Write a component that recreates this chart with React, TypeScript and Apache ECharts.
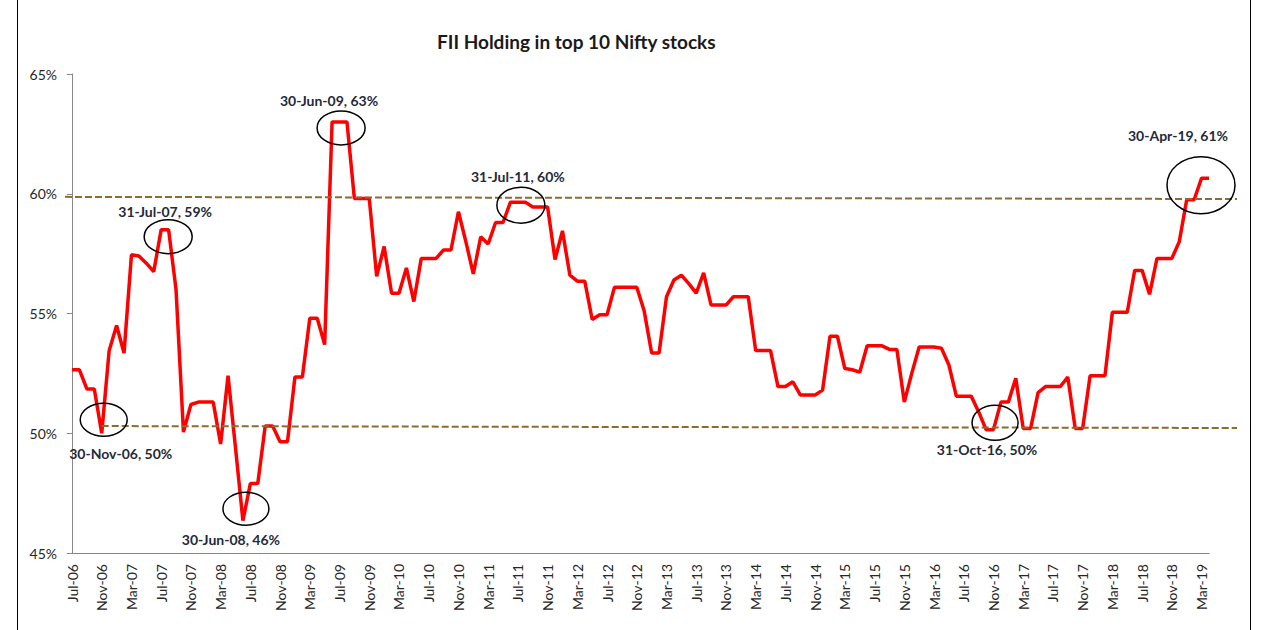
import React, { useEffect, useRef } from 'react';
import * as echarts from 'echarts';

// ---------- DATA ----------
const MONTH_NAMES = ['Jan', 'Feb', 'Mar', 'Apr', 'May', 'Jun', 'Jul', 'Aug', 'Sep', 'Oct', 'Nov', 'Dec'];
const START_YEAR = 2006;
const START_MONTH = 6; // Jul
const END_YEAR = 2019;
const END_MONTH = 3; // Apr

const CATEGORIES: string[] = [];
for (let y = START_YEAR; y <= END_YEAR; y++) {
  for (let m = 0; m < 12; m++) {
    if (y === START_YEAR && m < START_MONTH) continue;
    if (y === END_YEAR && m > END_MONTH) continue;
    CATEGORIES.push(MONTH_NAMES[m] + '-' + String(y % 100).padStart(2, '0'));
  }
}

// FII holding (%) Jul-06 .. Apr-19, monthly
const FII_HOLDING = [
  52.65, 52.65, 51.85, 51.85, 50.0, 53.45, // Jul-06..Dec-06
  54.5, 53.35, 57.45, 57.4, 57.1, 56.75, 58.5, 58.5, 56.0, 50.05, 51.2, 51.3, // 2007
  51.3, 51.3, 49.55, 52.4, 49.4, 46.35, 47.9, 47.9, 50.3, 50.3, 49.65, 49.65, // 2008
  52.35, 52.35, 54.8, 54.8, 53.7, 63.0, 63.0, 63.0, 59.8, 59.8, 59.8, 56.55, // 2009
  57.8, 55.85, 55.85, 56.9, 55.5, 57.3, 57.3, 57.3, 57.65, 57.65, 59.25, 58.0, // 2010
  56.65, 58.2, 57.9, 58.8, 58.8, 59.65, 59.65, 59.65, 59.45, 59.45, 59.45, 57.25, // 2011
  58.45, 56.6, 56.35, 56.35, 54.75, 54.95, 54.95, 56.1, 56.1, 56.1, 56.1, 55.1, // 2012
  53.35, 53.35, 55.7, 56.4, 56.6, 56.25, 55.85, 56.7, 55.35, 55.35, 55.35, 55.7, // 2013
  55.7, 55.7, 53.45, 53.45, 53.45, 51.95, 51.95, 52.15, 51.6, 51.6, 51.6, 51.8, // 2014
  54.05, 54.05, 52.7, 52.65, 52.55, 53.65, 53.65, 53.65, 53.5, 53.5, 51.3, 52.5, // 2015
  53.6, 53.6, 53.6, 53.55, 52.85, 51.55, 51.55, 51.55, 50.9, 50.15, 50.15, 51.3, // 2016
  51.3, 52.3, 50.2, 50.2, 51.7, 51.95, 51.95, 51.95, 52.35, 50.2, 50.2, 52.4, // 2017
  52.4, 52.4, 55.05, 55.05, 55.05, 56.8, 56.8, 55.8, 57.3, 57.3, 57.3, 58.0, // 2018
  59.75, 59.75, 60.65, 60.65, // Jan-19..Apr-19
];

const Y_MIN = 45;
const Y_MAX = 65;
const Y_STEP = 5;

// Hand-drawn trend (support / resistance) lines: value at left end, value at right end
const UPPER_TREND = [59.87, 59.78];
const LOWER_TREND = [50.3, 50.22];
const LOWER_TREND_START_INDEX = 4; // starts at Nov-06

// Callouts: index of month and text
const CALLOUT_INDEX = [4, 12, 23, 35, 60, 123, 153];
const CALLOUT_TEXT = [
  '30-Nov-06, 50%',
  '31-Jul-07, 59%',
  '30-Jun-08, 46%',
  '30-Jun-09, 63%',
  '31-Jul-11, 60%',
  '31-Oct-16, 50%',
  '30-Apr-19, 61%',
];

// ---------- LAYOUT (pixel offsets of circles/labels relative to the data point) ----------
const CALLOUT_LAYOUT = [
  { ex: 2, ey: -13.5, rx: 23.5, ry: 16.5, tx: 19, ty: 20 },
  { ex: 7, ey: 7, rx: 24, ry: 17, tx: 4, ty: -18 },
  { ex: 3, ey: -12, rx: 23, ry: 16.5, tx: -12, ty: 19 },
  { ex: 9, ey: 6, rx: 24, ry: 17, tx: -3, ty: -21 },
  { ex: 3, ey: 3, rx: 24, ry: 18, tx: 0, ty: -26 },
  { ex: 9, ey: -7, rx: 23, ry: 17.5, tx: 1, ty: 20 },
  { ex: -8, ey: 7, rx: 34, ry: 28.5, tx: -31, ty: -43 },
];

const FONT = 'Lato, "Open Sans", "DejaVu Sans", sans-serif';
const AXIS_COLOR = '#868686';
const TEXT_COLOR = '#262626';
const TREND_COLOR = '#8C6C2E';

export default function App() {
  const ref = useRef<HTMLDivElement>(null);

  useEffect(() => {
    if (!ref.current) return;
    const chart = echarts.init(ref.current, null, { renderer: 'svg' });

    chart.setOption({
      animation: false,
      backgroundColor: '#ffffff',
      title: {
        text: 'FII Holding in top 10 Nifty stocks',
        left: 432,
        top: 27,
        textStyle: { fontFamily: FONT, fontSize: 19, fontWeight: 'bold', color: '#1a1a1a' },
      },
      grid: { left: 72, right: 53, top: 74, bottom: 77, containLabel: false },
      xAxis: {
        type: 'category',
        data: CATEGORIES,
        boundaryGap: false,
        axisLine: { show: true, lineStyle: { color: AXIS_COLOR, width: 1 } },
        axisTick: { show: false },
        splitLine: { show: false },
        axisLabel: {
          interval: 3,
          rotate: 90,
          margin: 11,
          fontFamily: FONT,
          fontSize: 14,
          color: TEXT_COLOR,
        },
      },
      yAxis: {
        type: 'value',
        min: Y_MIN,
        max: Y_MAX,
        interval: Y_STEP,
        splitLine: { show: false },
        axisLine: { show: true, lineStyle: { color: AXIS_COLOR, width: 1 } },
        axisTick: { show: true, inside: false, length: 5, lineStyle: { color: AXIS_COLOR } },
        axisLabel: {
          formatter: '{value}%',
          margin: 15,
          fontFamily: FONT,
          fontSize: 14,
          color: TEXT_COLOR,
        },
      },
      series: [
        {
          type: 'line',
          data: FII_HOLDING,
          symbol: 'none',
          lineStyle: { color: '#FF0000', width: 3.5 },
          z: 3,
        },
      ],
    });

    const toPx = (i: number, v: number) =>
      chart.convertToPixel({ xAxisIndex: 0, yAxisIndex: 0 }, [i, v]) as number[];

    const last = FII_HOLDING.length - 1;
    const gridLeft = toPx(0, Y_MIN)[0];
    const gridRight = toPx(last, Y_MIN)[0];

    const graphics: any[] = [];

    // frame (left and right edges)
    graphics.push({
      type: 'line',
      shape: { x1: 17.5, y1: 0, x2: 17.5, y2: 630 },
      style: { stroke: '#000', lineWidth: 1 },
      silent: true,
    });
    graphics.push({
      type: 'line',
      shape: { x1: 1250.5, y1: 0, x2: 1250.5, y2: 630 },
      style: { stroke: '#000', lineWidth: 1 },
      silent: true,
    });

    // trend lines
    const upL = toPx(0, UPPER_TREND[0]);
    const upR = toPx(last, UPPER_TREND[1]);
    graphics.push({
      type: 'line',
      shape: { x1: gridLeft - 7, y1: upL[1], x2: gridRight + 28, y2: upR[1] },
      style: { stroke: TREND_COLOR, lineWidth: 2, lineDash: [7, 3] },
      silent: true,
      z: 5,
    });
    const loL = toPx(LOWER_TREND_START_INDEX, LOWER_TREND[0]);
    const loR = toPx(last, LOWER_TREND[1]);
    graphics.push({
      type: 'line',
      shape: { x1: loL[0], y1: loL[1], x2: gridRight + 28, y2: loR[1] },
      style: { stroke: TREND_COLOR, lineWidth: 2, lineDash: [7, 3] },
      silent: true,
      z: 5,
    });

    // callouts
    CALLOUT_INDEX.forEach((idx, k) => {
      const p = toPx(idx, FII_HOLDING[idx]);
      const L = CALLOUT_LAYOUT[k];
      graphics.push({
        type: 'ellipse',
        shape: { cx: p[0] + L.ex, cy: p[1] + L.ey, rx: L.rx, ry: L.ry },
        style: { fill: 'none', stroke: '#000', lineWidth: 1.5 },
        silent: true,
        z: 10,
      });
      graphics.push({
        type: 'text',
        x: p[0] + L.tx,
        y: p[1] + L.ty,
        style: {
          text: CALLOUT_TEXT[k],
          align: 'center',
          verticalAlign: 'middle',
          fontFamily: FONT,
          fontSize: 14,
          fontWeight: 'bold',
          fill: '#1f2a3a',
        },
        silent: true,
        z: 10,
      });
    });

    chart.setOption({ graphic: graphics });

    return () => chart.dispose();
  }, []);

  return (
    <div
      ref={ref}
      style={{ position: 'absolute', left: 0, top: 0, width: 1262, height: 630 }}
    />
  );
}
